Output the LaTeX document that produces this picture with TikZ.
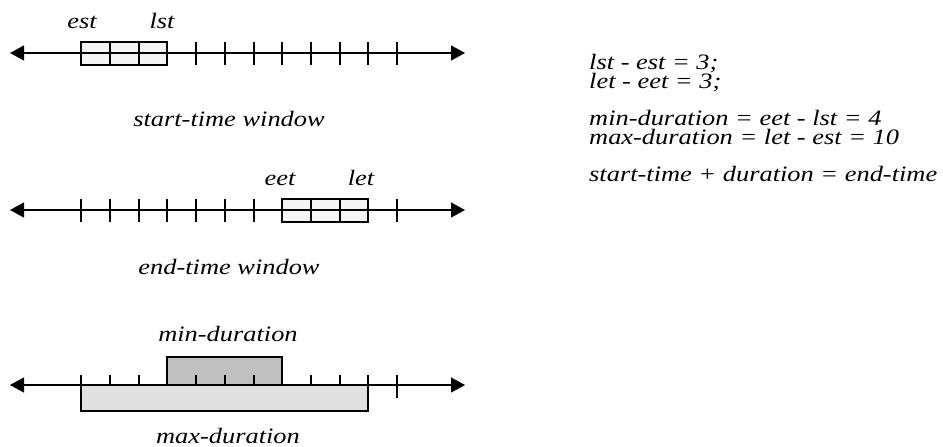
\documentclass[tikz,border=0pt]{standalone}
\usepackage{fontspec}
\setmainfont{Liberation Serif}[FakeStretch=1.2]
\usetikzlibrary{arrows.meta}
\definecolor{winfill}{HTML}{F4F4F4}
\definecolor{minfill}{HTML}{C0C0C0}
\definecolor{maxfill}{HTML}{E0E0E0}
\begin{document}
\begin{tikzpicture}[x=1pt,y=-1pt,
  axis/.style={line width=1.2pt,{Triangle[length=14pt,width=15pt]}-{Triangle[length=14pt,width=15pt]}},
  tickmark/.style={line width=1.2pt},
  boxline/.style={line width=1.5pt},
  lab/.style={inner sep=0pt, anchor=base, font=\fontsize{22}{16}\selectfont\itshape},
  eq/.style={inner sep=0pt, anchor=base west, font=\fontsize{22}{16}\selectfont\itshape}]
\useasboundingbox (0,0) rectangle (943,447);
% ---------- row 1: start-time window
\coordinate (a1l) at (10,53); \coordinate (a1r) at (465,53);
\fill[winfill] (81,42) rectangle (167,65);
\draw[axis] (a1l) -- (a1r);
\draw[boxline] (81,42) rectangle (167,65);
\foreach \x in {110,139} \draw[tickmark] (\x,42) -- ++(0,23);
\foreach \x in {196,225,254,282,311,340,368,397} \draw[tickmark] (\x,42) -- ++(0,23);
\node[lab] (est) at (82,28) {est};
\node[lab] (lst) at (162,28) {lst};
\node[lab] (stw) at (229,126) {start-time window};
% ---------- row 2: end-time window
\coordinate (a2l) at (10,210); \coordinate (a2r) at (465,210);
\fill[winfill] (282,199) rectangle (368,222);
\draw[axis] (a2l) -- (a2r);
\draw[boxline] (282,199) rectangle (368,222);
\foreach \x in {311,340} \draw[tickmark] (\x,199) -- ++(0,23);
\foreach \x in {81,110,139,167,196,225,254,397} \draw[tickmark] (\x,199) -- ++(0,23);
\node[lab] (eet) at (280,185) {eet};
\node[lab] (let) at (361,185) {let};
\node[lab] (etw) at (229,274) {end-time window};
% ---------- row 3: durations
\coordinate (a3l) at (10,385); \coordinate (a3r) at (465,385);
\draw[axis] (a3l) -- (a3r);
\draw[boxline, fill=minfill] (167,357) rectangle (282,385);
\foreach \x in {81,110,139,167,196,225,254,282,311,340,368,397} \draw[tickmark] (\x,375) -- ++(0,23);
\draw[boxline, fill=maxfill] (81,385) rectangle (368,411);
\node[lab] (mind) at (228,341) {min-duration};
\node[lab] (maxd) at (228,443) {max-duration};
% ---------- right: relations
\node[eq] (r1) at (589,69) {lst - est = 3;};
\node[eq] (r2) at (589,88) {let - eet = 3;};
\node[eq] (r3) at (589,125) {min-duration = eet - lst = 4};
\node[eq] (r4) at (589,144) {max-duration = let - est = 10};
\node[eq] (r5) at (589,181) {start-time + duration = end-time};
\end{tikzpicture}
\end{document}
